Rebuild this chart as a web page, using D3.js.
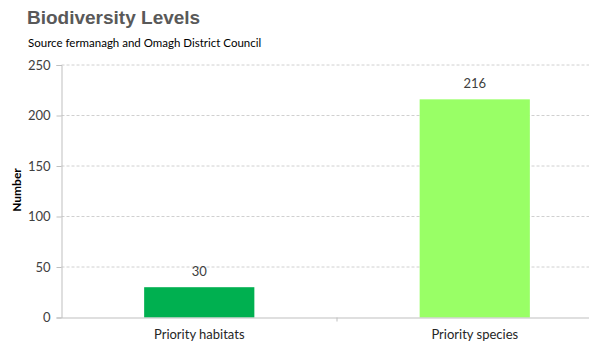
<!DOCTYPE html>
<html><head><meta charset="utf-8">
<script src="https://cdn.jsdelivr.net/npm/d3@7/dist/d3.min.js"></script>
<style>body{margin:0;background:#fff;}svg{display:block;}</style>
</head><body>
<script>
const categories = ["Priority habitats", "Priority species"];
const values = [30, 216];
const barColors = ["#00B050", "#99FF66"];
const yTicks = [0, 50, 100, 150, 200, 250];
const title = "Biodiversity Levels";
const subtitle = "Source fermanagh and Omagh District Council";
const yLabel = "Number";

const W = 589, H = 346;
const m = {left: 61.5, top: 65, bottom: 317.5, right: 612.5};
const svg = d3.select("body").append("svg").attr("width", W).attr("height", H);

const x = d3.scaleBand().domain(categories).range([m.left, m.right]).paddingInner(0.6).paddingOuter(0.3);
const y = d3.scaleLinear().domain([0, 250]).range([m.bottom, m.top]);

// grid
svg.append("g").selectAll("line").data(yTicks.filter(d => d > 0)).join("line")
  .attr("x1", m.left).attr("x2", W).attr("y1", d => y(d)).attr("y2", d => y(d))
  .attr("stroke", "#d0d0d0").attr("stroke-dasharray", "3,2").attr("stroke-width", 1);

// bars
svg.append("g").selectAll("rect").data(values).join("rect")
  .attr("x", (d, i) => x(categories[i])).attr("width", x.bandwidth())
  .attr("y", d => y(d)).attr("height", d => y(0) - y(d))
  .attr("fill", (d, i) => barColors[i]);

// y axis
const ya = svg.append("g").attr("transform", `translate(${m.left},0)`)
  .call(d3.axisLeft(y).tickValues(yTicks).tickSize(5).tickPadding(6));
ya.select(".domain").attr("stroke", "#bfbfbf");
ya.selectAll(".tick line").attr("stroke", "#bfbfbf");
ya.selectAll(".tick text").attr("fill", "#404040").style("font-family", "Lato, 'Open Sans', sans-serif").style("font-size", "13px");

// x axis
const xa = svg.append("g").attr("transform", `translate(0,${m.bottom})`)
  .call(d3.axisBottom(x).tickSize(0).tickPadding(12));
xa.select(".domain").attr("stroke", "#bfbfbf");
xa.selectAll(".tick text").attr("fill", "#262626").style("font-family", "Lato, 'Open Sans', sans-serif").style("font-size", "13px");
// category divider tick
const divX = x(categories[1]) - x.step() * x.paddingInner() / 2;
svg.append("line").attr("x1", divX).attr("x2", divX)
  .attr("y1", m.bottom).attr("y2", m.bottom + 4).attr("stroke", "#bfbfbf");

// value labels
svg.append("g").selectAll("text").data(values).join("text")
  .attr("x", (d, i) => x(categories[i]) + x.bandwidth() / 2).attr("y", d => y(d) - 11)
  .attr("text-anchor", "middle").attr("fill", "#404040")
  .style("font-family", "Lato, 'Open Sans', sans-serif").style("font-size", "13px")
  .text(d => d);

// title
svg.append("text").attr("x", 27).attr("y", 24).text(title)
  .attr("fill", "#595959").style("font-family", "Arial, 'Liberation Sans', sans-serif")
  .style("font-weight", "bold").style("font-size", "19px");
svg.append("text").attr("x", 28).attr("y", 47).text(subtitle)
  .attr("fill", "#000").style("font-family", "Lato, 'Open Sans', sans-serif").style("font-size", "11.5px");

// y label
svg.append("text").attr("transform", `translate(21,190) rotate(-90)`).attr("text-anchor", "middle")
  .text(yLabel).attr("fill", "#000").style("font-family", "Lato, 'Open Sans', sans-serif")
  .style("font-weight", "bold").style("font-size", "12px");
</script>
</body></html>
